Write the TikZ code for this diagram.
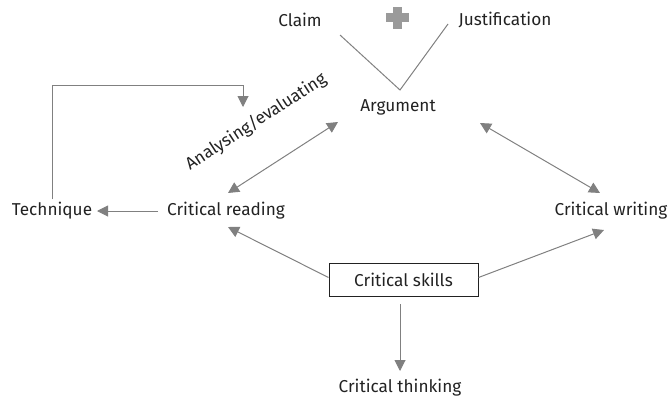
\documentclass[tikz,border=0pt]{standalone}
\usepackage{fontspec}
\setmainfont{Fira Sans}
\usetikzlibrary{arrows.meta}
\definecolor{arr}{HTML}{808080}
\definecolor{txt}{HTML}{222222}
\begin{document}
\begin{tikzpicture}[x=1pt,y=1pt,
  lbl/.style={text=txt,font=\fontsize{17.2}{20}\selectfont,inner sep=1pt},
  conn/.style={draw=arr,line width=1pt,-{Triangle[length=11pt,width=11pt]}},
  dconn/.style={draw=arr,line width=1pt,{Triangle[length=11pt,width=11pt]}-{Triangle[length=11pt,width=11pt]}},
  vline/.style={draw=arr,line width=1pt}]
\useasboundingbox (0,0) rectangle (668,400);
\node[lbl] (claim) at (300,380) {Claim};
\node[lbl] (just) at (505,380) {Justification};
\node[lbl] (arg) at (398,293) {Argument};
\node[lbl] (tech) at (52,189) {Technique};
\node[lbl] (cread) at (226,189) {Critical reading};
\node[lbl] (cwrite) at (611,189) {Critical writing};
\node[lbl,draw=txt,line width=1pt,minimum width=149pt,minimum height=33pt] (cskills) at (403.5,120.5) {Critical skills};
\node[lbl] (cthink) at (400,12) {Critical thinking};
\node[lbl,rotate=33] (anal) at (256,278) {Analysing/evaluating};
% plus sign
\fill[arr!80] (393,393) rectangle (402,371);
\fill[arr!80] (386,386.5) rectangle (409,377.5);
% V
\coordinate (v1) at (340,365);
\coordinate (v2) at (400,310);
\coordinate (v3) at (448,376);
\draw[vline] (v1) -- (v2) -- (v3);
% bracket
\coordinate (b1) at (52,315);
\coordinate (b2) at (243,315);
\coordinate (b3) at (243,293);
\draw[conn] (tech.north) ++(0,2) |- (b1) -| (b3);
\draw[conn] (cread.west) ++(-8,0) -- (97,189);
\coordinate (a1) at (338,278);
\coordinate (a2) at (228,207);
\draw[dconn] (a1) -- (a2);
\coordinate (a3) at (480,277);
\coordinate (a4) at (600,207);
\draw[dconn] (a3) -- (a4);
\coordinate (c1) at (228,173);
\coordinate (c2) at (604,170);
\draw[conn] (cskills.west) ++(0,2) -- (c1);
\draw[conn] (cskills.east) ++(0,2) -- (c2);
\coordinate (d1) at (400,96);
\coordinate (d2) at (400,29);
\draw[conn] (d1) -- (d2);
\end{tikzpicture}
\end{document}
